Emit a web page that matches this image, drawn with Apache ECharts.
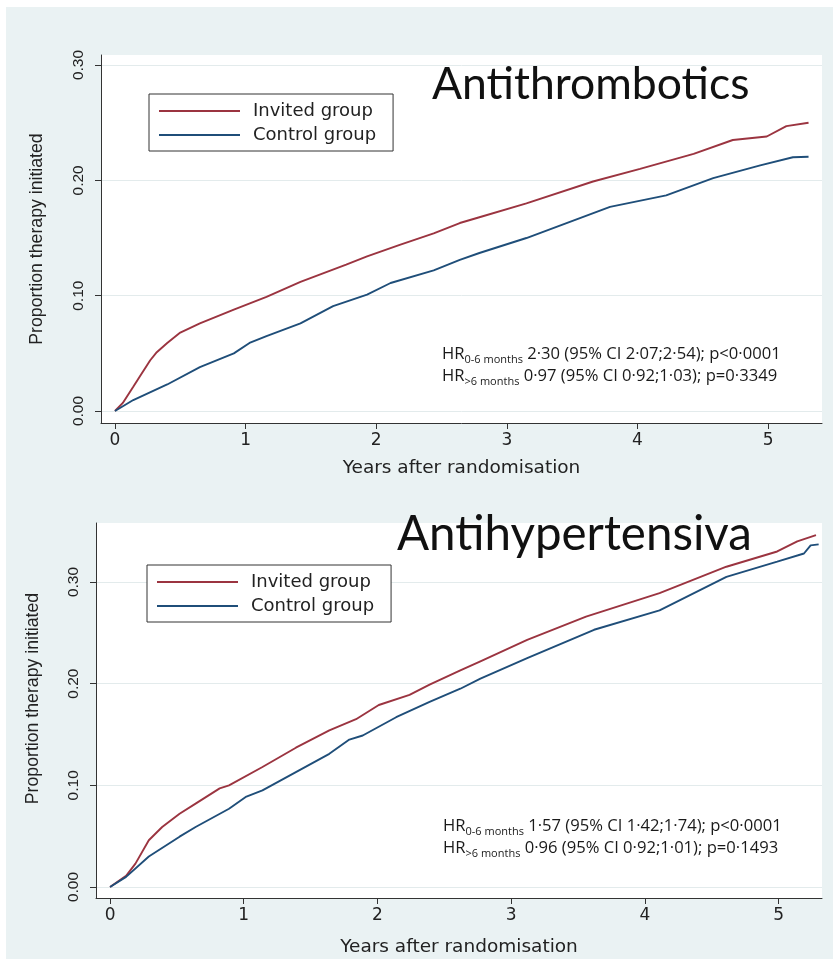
<!DOCTYPE html>
<html><head><meta charset="utf-8">
<script src="https://cdn.jsdelivr.net/npm/echarts@6/dist/echarts.min.js"></script>
<style>html,body{margin:0;padding:0;background:#fff}#c{width:833px;height:959px}</style>
</head><body><div id="c"></div>
<script>
// ---- data ----
var seriesNames = ['Invited group', 'Control group'];
var yTicks = [0, 0.1, 0.2, 0.3];
var xTicks = [0, 1, 2, 3, 4, 5];

// Antithrombotics
var thrInvitedX = [0, 0.06, 0.14, 0.19, 0.27, 0.32, 0.40, 0.50, 0.65, 0.91, 1.16, 1.42, 1.77, 1.93, 2.18, 2.44, 2.64, 2.79, 3.15, 3.66, 4.02, 4.43, 4.73, 4.99, 5.14, 5.31];
var thrInvitedY = [0, 0.007, 0.021, 0.030, 0.044, 0.051, 0.059, 0.068, 0.076, 0.088, 0.099, 0.112, 0.127, 0.134, 0.144, 0.154, 0.163, 0.168, 0.180, 0.199, 0.210, 0.223, 0.235, 0.238, 0.247, 0.250];
var thrControlX = [0, 0.14, 0.40, 0.65, 0.91, 1.03, 1.16, 1.42, 1.67, 1.93, 2.11, 2.44, 2.64, 2.79, 3.15, 3.79, 4.22, 4.58, 4.94, 5.19, 5.31];
var thrControlY = [0, 0.0095, 0.023, 0.038, 0.050, 0.059, 0.065, 0.076, 0.091, 0.101, 0.111, 0.122, 0.131, 0.137, 0.150, 0.177, 0.187, 0.202, 0.213, 0.220, 0.2205];

// Antihypertensiva
var hypInvitedX = [0, 0.12, 0.19, 0.29, 0.39, 0.52, 0.64, 0.82, 0.89, 1.14, 1.39, 1.64, 1.84, 2.01, 2.24, 2.39, 2.62, 2.77, 3.12, 3.56, 4.11, 4.61, 4.99, 5.14, 5.28];
var hypInvitedY = [0, 0.011, 0.023, 0.046, 0.059, 0.072, 0.082, 0.097, 0.100, 0.118, 0.137, 0.154, 0.165, 0.179, 0.189, 0.199, 0.213, 0.222, 0.243, 0.266, 0.289, 0.315, 0.330, 0.340, 0.346];
var hypControlX = [0, 0.12, 0.29, 0.52, 0.64, 0.89, 1.02, 1.14, 1.39, 1.64, 1.79, 1.89, 2.14, 2.39, 2.62, 2.77, 3.12, 3.62, 4.11, 4.61, 4.99, 5.19, 5.24, 5.30];
var hypControlY = [0, 0.010, 0.030, 0.0495, 0.059, 0.077, 0.089, 0.095, 0.113, 0.131, 0.145, 0.149, 0.167, 0.182, 0.195, 0.205, 0.225, 0.253, 0.272, 0.305, 0.320, 0.328, 0.336, 0.337];

var titles = ['Antithrombotics', 'Antihypertensiva'];
var hrLines = [
  [['0-6 months', ' 2·30 (95% CI 2·07;2·54); p<0·0001'], ['>6 months', ' 0·97 (95% CI 0·92;1·03); p=0·3349']],
  [['0-6 months', ' 1·57 (95% CI 1·42;1·74); p<0·0001'], ['>6 months', ' 0·96 (95% CI 0·92;1·01); p=0·1493']]
];
var xName = 'Years after randomisation';
var yName = 'Proportion therapy initiated';

// ---- build ----
function pairs(xs, ys) { return xs.map(function (x, i) { return [x, ys[i]]; }); }
var RED = '#9b3440', BLUE = '#1f4e79', AX = '#333';

function xAxisCfg(gi, min, max, gap) {
  return {
    type: 'value', gridIndex: gi, min: min, max: max,
    axisLine: { show: true, onZero: false, lineStyle: { color: AX, width: 1 } },
    axisTick: { show: true, length: 6, customValues: xTicks, lineStyle: { color: AX } },
    axisLabel: { customValues: xTicks, margin: 9, fontFamily: 'DejaVu Sans', fontSize: 17, color: '#222' },
    splitLine: { show: false },
    name: xName, nameLocation: 'middle', nameGap: gap,
    nameTextStyle: { fontFamily: 'DejaVu Sans', fontSize: 18.5, color: '#222' }
  };
}
function yAxisCfg(gi, min, max, gap, shift) {
  return {
    type: 'value', gridIndex: gi, min: min, max: max,
    axisLine: { show: true, onZero: false, lineStyle: { color: AX, width: 1 } },
    axisTick: { show: true, length: 6, customValues: yTicks, lineStyle: { color: AX } },
    axisLabel: { customValues: yTicks, rotate: 90, margin: 14, fontFamily: 'Liberation Sans', fontSize: 15.5, color: '#222',
      formatter: function (v) { return v.toFixed(2); } },
    splitLine: { show: true, lineStyle: { color: '#e3ebec', width: 1 } },
    name: yName, nameLocation: 'middle', nameGap: gap, nameRotate: 90,
    nameTextStyle: { fontFamily: 'Liberation Sans', fontSize: 17.7, color: '#222', padding: [0, 0, 0, shift] }
  };
}
function legendCfg(left, top) {
  return {
    left: left, top: top, orient: 'vertical', selectedMode: false,
    itemWidth: 81, itemHeight: 14, itemGap: 6, padding: [8, 17, 7, 9],
    borderColor: '#333', borderWidth: 1, backgroundColor: '#fff',
    itemStyle: { opacity: 0 },
    textStyle: { fontFamily: 'DejaVu Sans', fontSize: 18, lineHeight: 18, color: '#222', padding: [0, 0, 0, 8] },
    data: seriesNames
  };
}
function lineSeries(name, gi, data, color) {
  return { type: 'line', name: name, xAxisIndex: gi, yAxisIndex: gi, data: data, showSymbol: false, symbol: 'none',
    lineStyle: { color: color, width: 1.9 }, itemStyle: { color: color }, animation: false };
}
function hrText(x, y, line) {
  return { type: 'text', left: x, top: y, z: 50,
    style: { text: '{a|HR}{s|' + line[0] + '}{a|' + line[1] + '}', fill: '#1a1a1a',
      rich: { a: { fontFamily: 'Open Sans', fontSize: 16.6, lineHeight: 19, fill: '#1a1a1a', verticalAlign: 'bottom' },
              s: { fontFamily: 'Open Sans', fontSize: 11, lineHeight: 10, fill: '#1a1a1a', verticalAlign: 'bottom', padding: [0, 0, -2, 0] } } } };
}

var option = {
  backgroundColor: '#eaf2f3',
  animation: false,
  grid: [
    { left: 101, right: 11, top: 55, height: 368, show: true, backgroundColor: '#fff', borderWidth: 0 },
    { left: 96, right: 11, top: 523, height: 375, show: true, backgroundColor: '#fff', borderWidth: 0 }
  ],
  xAxis: [xAxisCfg(0, -0.107, 5.413, 36), xAxisCfg(1, -0.105, 5.325, 40)],
  yAxis: [yAxisCfg(0, -0.0104, 0.3087, 55, 0), yAxisCfg(1, -0.0108, 0.358, 54, 24)],
  legend: [legendCfg(149, 94), legendCfg(147, 565)],
  series: [
    lineSeries(seriesNames[0], 0, pairs(thrInvitedX, thrInvitedY), RED),
    lineSeries(seriesNames[1], 0, pairs(thrControlX, thrControlY), BLUE),
    lineSeries(seriesNames[0], 1, pairs(hypInvitedX, hypInvitedY), RED),
    lineSeries(seriesNames[1], 1, pairs(hypControlX, hypControlY), BLUE)
  ],
  graphic: [
    { type: 'rect', left: 0, top: 0, shape: { width: 833, height: 7 }, style: { fill: '#fff' }, z: 60 },
    { type: 'rect', left: 0, top: 0, shape: { width: 6, height: 959 }, style: { fill: '#fff' }, z: 60 },
    { type: 'text', left: 432, top: 62, z: 50, style: { text: titles[0], fontFamily: 'Lato', fontSize: 44.5, fill: '#111' } },
    { type: 'text', left: 397, top: 511, z: 50, style: { text: titles[1], fontFamily: 'Lato', fontSize: 47.5, fill: '#111' } },
    hrText(442, 346, hrLines[0][0]), hrText(442, 368, hrLines[0][1]),
    hrText(443, 818, hrLines[1][0]), hrText(443, 840, hrLines[1][1])
  ]
};
var chart = echarts.init(document.getElementById('c'), null, { renderer: 'canvas' });
chart.setOption(option);
</script></body></html>
